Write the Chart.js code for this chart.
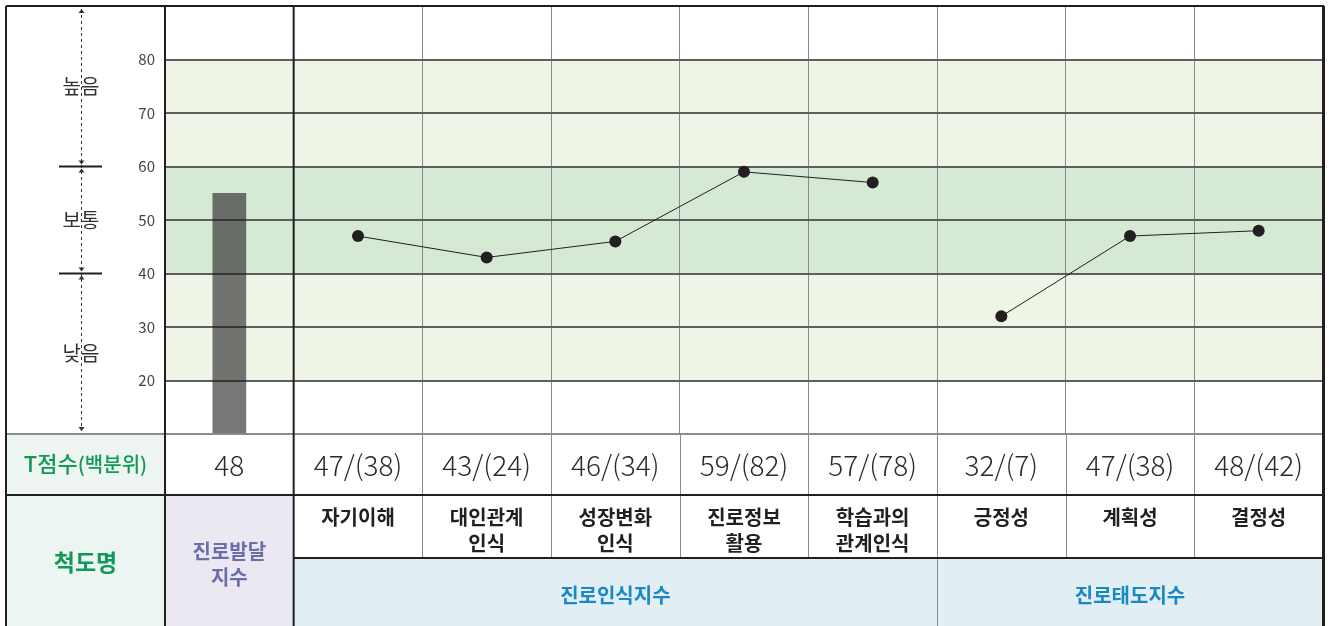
<!DOCTYPE html>
<html>
<head>
<meta charset="utf-8">
<script src="https://cdn.jsdelivr.net/npm/chart.js@4.4.1/dist/chart.umd.min.js"></script>
<style>
  html, body { margin: 0; padding: 0; background: #fff; }
  #wrap { width: 1329px; height: 626px; }
</style>
</head>
<body>
<div id="wrap"><canvas id="c" width="1329" height="626"></canvas></div>
<script>
// ---- data ----
const categories = ['진로발달지수', '자기이해', '대인관계 인식', '성장변화 인식', '진로정보 활용', '학습과의 관계인식', '긍정성', '계획성', '결정성'];
const barValues = [55, null, null, null, null, null, null, null, null];
const lineValues = [null, 47, 43, 46, 59, 57, 32, 47, 48];
const tScoreLabels = ['48', '47/(38)', '43/(24)', '46/(34)', '59/(82)', '57/(78)', '32/(7)', '47/(38)', '48/(42)'];
const scaleNameLines = [['진로발달', '지수'], ['자기이해'], ['대인관계', '인식'], ['성장변화', '인식'], ['진로정보', '활용'], ['학습과의', '관계인식'], ['긍정성'], ['계획성'], ['결정성']];
const groupLabels = ['진로인식지수', '진로태도지수'];
const groupFrom = [1, 6];
const groupTo = [5, 8];
const yTicks = [20, 30, 40, 50, 60, 70, 80];
const levelLabels = ['높음', '보통', '낮음'];
const levelCenters = [75, 50, 25];
const levelBounds = [60, 40];
const bandRanges = [[60, 80], [40, 60], [20, 40]];
const bandKinds = ['light', 'mid', 'light'];
const lineBreakAfter = 5;

const KR = '"Noto Sans CJK KR", "Noto Sans", sans-serif';

const bgPlugin = {
  id: 'bands',
  beforeDraw(chart) {
    const { ctx, chartArea: a, scales: { y } } = chart;
    ctx.save();
    ctx.fillStyle = '#fff';
    ctx.fillRect(0, 0, chart.width, chart.height);
    bandRanges.forEach((r, i) => {
      const top = y.getPixelForValue(r[1]);
      const bot = y.getPixelForValue(r[0]);
      ctx.fillStyle = bandKinds[i] === 'mid' ? '#d6e9d5' : '#eef4e6';
      ctx.fillRect(a.left, top, a.right - a.left, bot - top);
    });
    ctx.restore();
  }
};

function arrow(ctx, x, y, up) {
  ctx.beginPath();
  ctx.moveTo(x, y);
  ctx.lineTo(x - 3, y + (up ? 4 : -4));
  ctx.lineTo(x + 3, y + (up ? 4 : -4));
  ctx.closePath();
  ctx.fill();
}

const tablePlugin = {
  id: 'table',
  afterDraw(chart) {
    const { ctx, chartArea: a, scales: { x, y } } = chart;
    const n = categories.length;
    const cw = (a.right - a.left) / n;
    const colL = i => a.left + i * cw;
    const colC = i => x.getPixelForValue(i);
    const L = 6, R = a.right, T = a.top;
    const y0 = a.bottom, y1 = 495, y2 = 558, y3 = chart.height + 2;
    ctx.save();

    // backgrounds
    ctx.fillStyle = '#ecf5f1';
    ctx.fillRect(L, y0, a.left - L, y3 - y0);
    ctx.fillStyle = '#fff';
    ctx.fillRect(a.left, y0, R - a.left, y1 - y0);
    ctx.fillRect(colL(1), y1, R - colL(1), y2 - y1);
    ctx.fillStyle = '#ebe8f2';
    ctx.fillRect(colL(0), y1, cw, y3 - y1);
    ctx.fillStyle = '#e1eff5';
    ctx.fillRect(colL(1), y2, R - colL(1), y3 - y2);

    // thin internal vertical lines in table
    ctx.strokeStyle = '#8a8a8a';
    ctx.lineWidth = 1;
    for (let i = 2; i < n; i++) {
      const xx = Math.round(colL(i)) + 0.5;
      ctx.beginPath();
      ctx.moveTo(xx, y0);
      ctx.lineTo(xx, groupFrom.includes(i) ? y3 : y2);
      ctx.stroke();
    }

    // horizontal lines
    ctx.strokeStyle = '#8c8c8c';
    ctx.lineWidth = 2;
    ctx.beginPath(); ctx.moveTo(L, y0); ctx.lineTo(R, y0); ctx.stroke();
    ctx.strokeStyle = '#231f20';
    ctx.beginPath(); ctx.moveTo(L, y1); ctx.lineTo(R, y1); ctx.stroke();
    ctx.beginPath(); ctx.moveTo(colL(1), y2); ctx.lineTo(R, y2); ctx.stroke();
    ctx.beginPath(); ctx.moveTo(L, T); ctx.lineTo(R + 1, T); ctx.stroke();

    // thick verticals
    ctx.lineWidth = 2;
    [L, colL(0), colL(1)].forEach(xx => {
      ctx.beginPath(); ctx.moveTo(xx, T); ctx.lineTo(xx, y3); ctx.stroke();
    });
    ctx.lineWidth = 3;
    ctx.beginPath(); ctx.moveTo(R + 0.5, T); ctx.lineTo(R + 0.5, y3); ctx.stroke();

    // texts
    ctx.textAlign = 'center';
    ctx.textBaseline = 'middle';
    // T score label
    ctx.fillStyle = '#12995a';
    const p1 = 'T점수', p2 = '(백분위)';
    const f1 = '500 22px ' + KR, f2 = '500 20px ' + KR;
    ctx.font = f1;
    const w1 = ctx.measureText(p1).width;
    ctx.font = f2;
    const w2 = ctx.measureText(p2).width;
    const sx = (L + a.left) / 2 - (w1 + w2) / 2;
    ctx.textAlign = 'left';
    ctx.font = f1;
    ctx.fillText(p1, sx, 464);
    ctx.font = f2;
    ctx.fillText(p2, sx + w1, 464);
    ctx.textAlign = 'center';
    ctx.font = 'bold 23px ' + KR;
    ctx.fillText('척도명', (L + a.left) / 2, 562);

    // T scores
    ctx.fillStyle = '#2b2b2b';
    ctx.font = '300 28px ' + KR;
    tScoreLabels.forEach((t, i) => ctx.fillText(t, colC(i), 465));

    // scale names
    scaleNameLines.forEach((lines, i) => {
      if (i === 0) {
        ctx.fillStyle = '#6b6ea8';
        ctx.font = 'bold 20px ' + KR;
        lines.forEach((s, k) => ctx.fillText(s, colC(i), 551 + k * 26));
      } else {
        ctx.fillStyle = '#231f20';
        ctx.font = 'bold 20px ' + KR;
        lines.forEach((s, k) => ctx.fillText(s, colC(i), 517 + k * 26));
      }
    });

    // groups
    ctx.fillStyle = '#1a88c2';
    ctx.font = 'bold 20px ' + KR;
    groupLabels.forEach((g, i) => {
      const cx = (colL(groupFrom[i]) + colL(groupTo[i] + 1)) / 2;
      ctx.fillText(g, cx, 595);
    });

    // left level column
    const ax = 81;
    ctx.strokeStyle = '#333';
    ctx.lineWidth = 1;
    ctx.setLineDash([3, 3]);
    ctx.beginPath(); ctx.moveTo(ax + 0.5, T + 3); ctx.lineTo(ax + 0.5, y0 - 3); ctx.stroke();
    ctx.setLineDash([]);
    ctx.fillStyle = '#333';
    arrow(ctx, ax + 0.5, T + 3, true);
    arrow(ctx, ax + 0.5, y0 - 3, false);
    levelBounds.forEach(v => {
      const yy = y.getPixelForValue(v);
      arrow(ctx, ax + 0.5, yy - 2, false);
      arrow(ctx, ax + 0.5, yy + 2, true);
      ctx.strokeStyle = '#231f20';
      ctx.lineWidth = 2;
      ctx.beginPath(); ctx.moveTo(59, yy); ctx.lineTo(102, yy); ctx.stroke();
    });
    ctx.font = '20px ' + KR;
    ctx.fillStyle = '#333';
    levelLabels.forEach((s, i) => {
      ctx.fillText(s, ax, y.getPixelForValue(levelCenters[i]));
    });

    ctx.restore();
  }
};

new Chart(document.getElementById('c'), {
  type: 'bar',
  data: {
    labels: categories,
    datasets: [
      {
        type: 'line',
        data: lineValues,
        borderColor: '#231f20',
        borderWidth: 1,
        pointRadius: 6,
        pointBackgroundColor: '#231f20',
        pointBorderColor: '#231f20',
        pointBorderWidth: 0,
        spanGaps: false,
        segment: {
          borderColor: c => c.p0DataIndex === lineBreakAfter ? 'rgba(0,0,0,0)' : '#231f20'
        },
        order: 0
      },
      {
        type: 'bar',
        data: barValues,
        backgroundColor: 'rgba(30,28,30,0.6)',
        borderWidth: 0,
        barThickness: 33,
        order: 1
      }
    ]
  },
  options: {
    responsive: false,
    animation: false,
    devicePixelRatio: 1,
    layout: { padding: { left: 6, top: 6, right: 6, bottom: 192 } },
    plugins: { legend: { display: false }, tooltip: { enabled: false } },
    scales: {
      x: {
        type: 'category',
        offset: true,
        ticks: { display: false },
        border: { display: false },
        grid: {
          offset: true,
          drawTicks: false,
          color: c => (c.index === undefined || c.index <= 1) ? 'rgba(0,0,0,0)' : '#8a8a8a',
          lineWidth: 1
        }
      },
      y: {
        min: 10,
        max: 90,
        afterFit: s => { s.width = 159; },
        afterBuildTicks: s => { s.ticks = [10].concat(yTicks, [90]).map(v => ({ value: v })); },
        ticks: {
          padding: 0,
          color: '#444',
          font: { size: 15, family: KR, lineHeight: 0.05 },
          callback: v => yTicks.includes(v) ? String(v) : ''
        },
        border: { display: false },
        grid: {
          drawTicks: true,
          tickLength: 10,
          tickColor: 'rgba(0,0,0,0)',
          color: c => yTicks.includes(c.tick && c.tick.value) ? '#5e5e5e' : 'rgba(0,0,0,0)',
          lineWidth: 2
        }
      }
    }
  },
  plugins: [bgPlugin, tablePlugin]
});
</script>
</body>
</html>
